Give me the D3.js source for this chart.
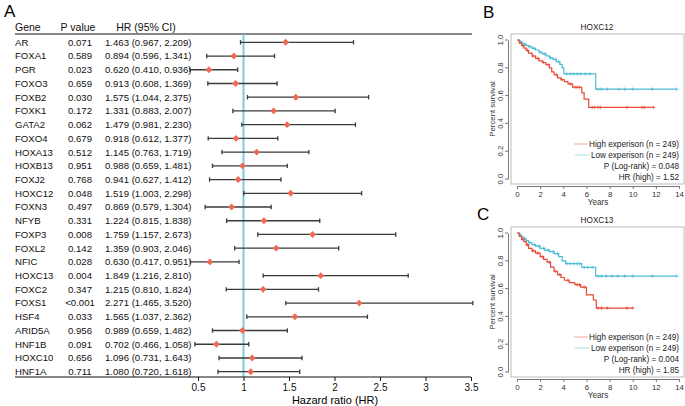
<!DOCTYPE html>
<meta charset="utf-8">
<style>
body { margin: 0; background: #fff; }
svg text { font-family: "Liberation Sans", Arial, sans-serif; }
.ci { stroke: #3a3a3a; stroke-width: 1.3px; }
.km-axis path, .km-axis line { stroke: #777; }
.km-axis text { fill: #333; font-size: 7.8px; }
</style>
<body>
<script src="https://d3js.org/d3.v7.min.js"></script>
<script>

// ---------- forest plot data (panel A) ----------
var genes = ["AR","FOXA1","PGR","FOXO3","FOXB2","FOXK1","GATA2","FOXO4","HOXA13","HOXB13","FOXJ2","HOXC12","FOXN3","NFYB","FOXP3","FOXL2","NFIC","HOXC13","FOXC2","FOXS1","HSF4","ARID5A","HNF1B","HOXC10","HNF1A"];
var pvals = ["0.071","0.589","0.023","0.659","0.030","0.172","0.062","0.679","0.512","0.951","0.768","0.048","0.497","0.331","0.008","0.142","0.028","0.004","0.347","<0.001","0.033","0.956","0.091","0.656","0.711"];
var hr   = [1.463,0.894,0.620,0.913,1.575,1.331,1.479,0.918,1.145,0.988,0.941,1.519,0.869,1.224,1.759,1.359,0.630,1.849,1.215,2.271,1.565,0.989,0.702,1.096,1.080];
var ciLo = [0.967,0.596,0.410,0.608,1.044,0.883,0.981,0.612,0.763,0.659,0.627,1.003,0.579,0.815,1.157,0.903,0.417,1.216,0.810,1.465,1.037,0.659,0.466,0.731,0.720];
var ciHi = [2.209,1.341,0.936,1.369,2.375,2.007,2.230,1.377,1.719,1.481,1.412,2.298,1.304,1.838,2.673,2.046,0.951,2.810,1.824,3.520,2.362,1.482,1.058,1.643,1.618];
var hrTicks = [0.5,1,1.5,2,2.5,3,3.5];

// ---------- KM data (panels B, C) ----------
// step knots: time (years), survival
var b_lowT  = [0,0.2,0.4,0.6,0.8,1.0,1.3,1.6,1.9,2.2,2.5,2.8,3.1,3.4,3.7,3.9,4.05,6.8,13.8];
var b_lowS  = [1,0.988,0.978,0.968,0.96,0.952,0.94,0.928,0.912,0.9,0.886,0.872,0.86,0.845,0.825,0.8,0.757,0.646,0.646];
var b_highT = [0,0.2,0.4,0.6,0.8,1.0,1.3,1.6,1.9,2.2,2.5,2.8,3.0,3.2,3.5,3.8,4.1,4.4,4.8,5.6,5.8,6.2,11.8];
var b_highS = [1,0.978,0.96,0.942,0.925,0.905,0.885,0.868,0.85,0.838,0.822,0.8,0.77,0.75,0.728,0.714,0.7,0.685,0.66,0.62,0.575,0.515,0.515];
var b_lowCens  = [0.3,0.7,1.1,1.5,2.0,2.4,2.9,3.3,3.6,4.3,4.6,4.9,5.2,5.5,5.9,6.3,7.0,7.3,7.8,8.8,9.3,10.0,11.7,13.8];
var b_highCens = [0.5,0.9,1.4,1.8,2.3,2.7,3.4,3.9,4.6,5.0,5.2,5.4,6.5,6.7,7.0,7.2,9.5,10.8,11.0,11.8];

var c_lowT  = [0,0.2,0.4,0.6,0.8,1.0,1.3,1.6,2.0,2.4,2.8,3.2,3.6,3.9,4.2,5.6,6.8,13.8];
var c_lowS  = [1,0.985,0.97,0.957,0.945,0.93,0.917,0.905,0.89,0.877,0.866,0.852,0.83,0.8,0.78,0.752,0.69,0.69];
var c_highT = [0,0.2,0.4,0.6,0.8,1.0,1.3,1.6,2.0,2.3,2.6,2.9,3.2,3.5,3.8,4.1,4.5,5.0,5.5,6.0,6.6,6.85,10.0];
var c_highS = [1,0.975,0.955,0.938,0.915,0.89,0.872,0.855,0.83,0.81,0.79,0.755,0.725,0.7,0.68,0.66,0.643,0.628,0.61,0.555,0.518,0.46,0.46];
var c_lowCens  = [0.3,0.7,1.1,1.5,1.9,2.3,2.7,3.1,3.5,4.3,4.6,4.9,5.2,5.4,5.8,6.1,6.5,7.0,7.3,7.7,8.2,8.7,9.3,10.0,11.7,13.8];
var c_highCens = [0.5,0.9,1.4,1.8,2.2,2.8,3.3,3.7,4.4,5.2,5.4,5.8,7.0,7.3,7.8,9.5,10.0];

var yearTicks = [0,2,4,6,8,10,12,14];
var survTicks = [0,0.2,0.4,0.6,0.8,1.0];

var RED = "#e64b35", CYAN = "#4dbbd5";

var svg = d3.select("body").append("svg")
    .attr("width", 685)
    .attr("height", 406);

// ================= panel A =================
svg.append("text").attr("x", 4).attr("y", 17).attr("font-size", 17).text("A");

var rowY = d3.scaleLinear().domain([0, genes.length - 1]).range([42.3, 371.7]);
var x = d3.scaleLinear().domain([0.5, 3.5]).range([198, 471]);

// header
var head = svg.append("g").attr("font-size", 10.5).attr("fill", "#111");
head.append("text").attr("x", 15).attr("y", 30.5).text("Gene");
head.append("text").attr("x", 78).attr("y", 30.5).attr("text-anchor", "middle").text("P value");
head.append("text").attr("x", 146).attr("y", 30.5).attr("text-anchor", "middle").text("HR (95% CI)");
svg.append("line").attr("x1", 15).attr("x2", 472).attr("y1", 34).attr("y2", 34)
    .attr("stroke", "#111").attr("stroke-width", 1.2);

// table rows
var rows = svg.append("g").selectAll("g").data(genes).join("g")
    .attr("transform", function(d, i) { return "translate(0," + (rowY(i) + 3.4) + ")"; })
    .attr("font-size", 9.6).attr("fill", "#111");
rows.append("text").attr("x", 15).text(function(d) { return d; });
rows.append("text").attr("x", 80).attr("text-anchor", "middle").text(function(d, i) { return pvals[i]; });
rows.append("text").attr("x", 105).text(function(d, i) {
  return hr[i].toFixed(3) + " (" + ciLo[i].toFixed(3) + ", " + ciHi[i].toFixed(3) + ")";
});

// reference line at HR = 1
svg.append("line").attr("x1", x(1)).attr("x2", x(1)).attr("y1", 34).attr("y2", 377)
    .attr("stroke", "#7fccd8").attr("stroke-width", 2);

// CI bars
var ci = svg.append("g").selectAll("g").data(genes).join("g")
    .attr("transform", function(d, i) { return "translate(0," + rowY(i) + ")"; });
ci.append("line").attr("class", "ci")
    .attr("x1", function(d, i) { return x(ciLo[i]); })
    .attr("x2", function(d, i) { return x(ciHi[i]); });
ci.append("line").attr("class", "ci").attr("y1", -2.2).attr("y2", 2.2)
    .attr("x1", function(d, i) { return x(ciLo[i]); })
    .attr("x2", function(d, i) { return x(ciLo[i]); });
ci.append("line").attr("class", "ci").attr("y1", -2.2).attr("y2", 2.2)
    .attr("x1", function(d, i) { return x(ciHi[i]); })
    .attr("x2", function(d, i) { return x(ciHi[i]); });
ci.append("path")
    .attr("d", d3.symbol().type(d3.symbolDiamond2).size(30))
    .attr("transform", function(d, i) { return "translate(" + x(hr[i]) + ",0)"; })
    .attr("fill", "#ef6a56");

// x axis
svg.append("line").attr("x1", 15).attr("x2", 471).attr("y1", 377).attr("y2", 377)
    .attr("stroke", "#111").attr("stroke-width", 1.2);
var xAxis = svg.append("g").attr("transform", "translate(0,377)")
    .call(d3.axisBottom(x).tickValues(hrTicks).tickSize(4).tickPadding(3).tickFormat(d3.format("")));
xAxis.select(".domain").remove();
xAxis.selectAll("line").attr("stroke", "#111");
xAxis.selectAll("text").attr("font-size", 10).attr("fill", "#111")
    .attr("font-family", "Liberation Sans, Arial, sans-serif");
svg.append("text").attr("x", 335).attr("y", 404).attr("text-anchor", "middle")
    .attr("font-size", 11).text("Hazard ratio (HR)");

// ================= panels B, C =================
function kmPanel(letter, letterX, letterY, title, top, lowT, lowS, highT, highS, lowC, highC, pTxt, hrTxt) {
  var g = svg.append("g").attr("transform", "translate(0," + top + ")");
  var kx = d3.scaleLinear().domain([0, 14]).range([517, 679]);
  var ky = d3.scaleLinear().domain([0, 1]).range([179, 40]);

  svg.append("text").attr("x", letterX).attr("y", letterY).attr("font-size", 17).text(letter);
  g.append("text").attr("x", 597).attr("y", 29.5).attr("text-anchor", "middle")
      .attr("font-size", 8.2).attr("fill", "#222").text(title);

  // box
  g.append("rect").attr("x", 511).attr("y", 34).attr("width", 173).attr("height", 150)
      .attr("fill", "none").attr("stroke", "#aaa").attr("stroke-width", 0.8);

  g.append("g").attr("class", "km-axis").attr("transform", "translate(0,186)")
      .call(d3.axisBottom(kx).tickValues(yearTicks).tickSize(3).tickPadding(2).tickSizeOuter(0));
  var ay = g.append("g").attr("class", "km-axis").attr("transform", "translate(508,0)")
      .call(d3.axisLeft(ky).tickValues(survTicks).tickSize(3).tickPadding(2).tickSizeOuter(0)
        .tickFormat(d3.format(".1f")));
  ay.selectAll(".tick").attr("transform", null);
  ay.selectAll(".tick line").attr("y1", function(d) { return ky(d); }).attr("y2", function(d) { return ky(d); });
  ay.selectAll("text")
      .attr("x", -5).attr("y", function(d) { return ky(d); })
      .attr("dy", 0).attr("text-anchor", "middle")
      .attr("transform", function(d) { return "rotate(-90," + (-5) + "," + ky(d) + ")"; });

  g.append("text").attr("transform", "translate(495,109) rotate(-90)")
      .attr("text-anchor", "middle").attr("font-size", 7.8).attr("fill", "#333").text("Percent survival");
  g.append("text").attr("x", 598).attr("y", 205).attr("text-anchor", "middle")
      .attr("font-size", 8.2).attr("fill", "#333").text("Years");

  function stepVal(T, S, t) {
    var v = S[0];
    for (var i = 0; i < T.length; i++) { if (T[i] <= t) v = S[i]; }
    return v;
  }
  var line = d3.line().curve(d3.curveStepAfter)
      .x(function(d) { return kx(d[0]); })
      .y(function(d) { return ky(d[1]); });

  [[lowT, lowS, lowC, CYAN], [highT, highS, highC, RED]].forEach(function(s) {
    var pts = s[0].map(function(t, i) { return [t, s[1][i]]; });
    g.append("path").attr("d", line(pts)).attr("fill", "none")
        .attr("stroke", s[3]).attr("stroke-width", 1.2);
    g.append("g").selectAll("path").data(s[2]).join("path")
        .attr("d", function(t) {
          var px = kx(t), py = ky(stepVal(s[0], s[1], t));
          return "M" + (px - 1.8) + "," + py + "H" + (px + 1.8) + "M" + px + "," + (py - 1.8) + "V" + (py + 1.8);
        })
        .attr("stroke", s[3]).attr("stroke-width", 0.7);
  });

  // legend
  var lg = g.append("g").attr("font-size", 8.2).attr("fill", "#222").attr("text-anchor", "end");
  lg.append("line").attr("x1", 574).attr("x2", 588).attr("y1", 144).attr("y2", 144)
      .attr("stroke", RED).attr("stroke-opacity", 0.5);
  lg.append("line").attr("x1", 575).attr("x2", 590).attr("y1", 155).attr("y2", 155)
      .attr("stroke", CYAN).attr("stroke-opacity", 0.5);
  lg.append("text").attr("x", 679).attr("y", 147).text("High experison (n = 249)");
  lg.append("text").attr("x", 679).attr("y", 158).text("Low experison (n = 249)");
  lg.append("text").attr("x", 679).attr("y", 168.5).text(pTxt);
  lg.append("text").attr("x", 679).attr("y", 179.5).text(hrTxt);
}

kmPanel("B", 483, 18, "HOXC12", 0, b_lowT, b_lowS, b_highT, b_highS, b_lowCens, b_highCens,
        "P (Log-rank) = 0.048", "HR (high) = 1.52");
kmPanel("C", 477, 220, "HOXC13", 193, c_lowT, c_lowS, c_highT, c_highS, c_lowCens, c_highCens,
        "P (Log-rank) = 0.004", "HR (high) = 1.85");

</script>
</body>
